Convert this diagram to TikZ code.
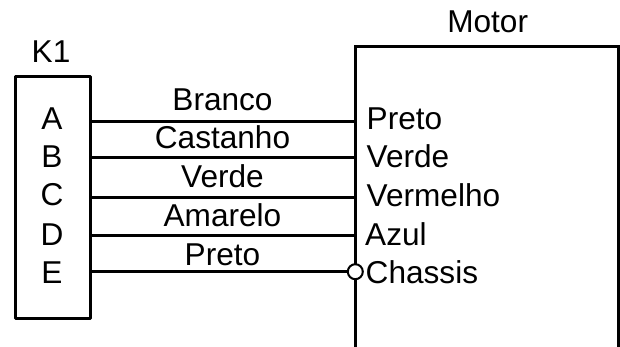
\documentclass[tikz,border=0pt]{standalone}
\usepackage{fontspec}
\setmainfont{Liberation Sans}
\begin{document}
\begin{tikzpicture}[x=1pt,y=-1pt,
  lbl/.style={inner sep=0pt,anchor=base,font=\fontsize{31.6}{32}\selectfont},
  lbll/.style={lbl,anchor=base west},
  wire/.style={line width=3pt},
  box/.style={draw,line width=3pt,line join=round,inner sep=0pt,outer sep=0pt,fill=white}]
\useasboundingbox[fill=white] (0,0) rectangle (620,347);
% K1 block
\node[box,minimum width=75.5pt,minimum height=241pt] (k1) at (52.75,197.5) {};
\node[lbl] (k1t) at (51,62.7) {K1};
\node[lbl] (pa) at (52,130) {A};
\node[lbl] (pb) at (52,167.7) {B};
\node[lbl] (pc) at (52,206) {C};
\node[lbl] (pd) at (52,245) {D};
\node[lbl] (pe) at (52,283) {E};
% Motor block, running off the bottom of the picture
\coordinate (mbl) at (355,347);
\coordinate (mtl) at (355,47);
\coordinate (mtr) at (618,47);
\coordinate (mbr) at (618,347);
\draw[wire,line join=miter] (mbl) -- (mtl) -- (mtr) -- (mbr);
\node[lbl] (mt) at (487.7,32.7) {Motor};
% Wire end points
\coordinate (k1a) at (k1.east |- 0,122);
\coordinate (k1b) at (k1.east |- 0,158);
\coordinate (k1c) at (k1.east |- 0,197.5);
\coordinate (k1d) at (k1.east |- 0,235);
\coordinate (k1e) at (k1.east |- 0,271.7);
\coordinate (ma) at (355,122);
\coordinate (mb) at (355,158);
\coordinate (mc) at (355,197.5);
\coordinate (md) at (355,235);
\node[circle,draw,line width=2pt,fill=white,minimum size=15pt,inner sep=0pt] (me) at (355.3,271.7) {};
\draw[wire] (k1a) -- (ma);
\draw[wire] (k1b) -- (mb);
\draw[wire] (k1c) -- (mc);
\draw[wire] (k1d) -- (md);
\draw[wire] (k1e) -- (me.west);
% Wire colours
\node[lbl] (w1) at (222.5,111) {Branco};
\node[lbl] (w2) at (222.5,149) {Castanho};
\node[lbl] (w3) at (222.5,187.7) {Verde};
\node[lbl] (w4) at (222.5,226.7) {Amarelo};
\node[lbl] (w5) at (222.5,265) {Preto};
% Motor terminals
\node[lbll] (t1) at (366.5,130) {Preto};
\node[lbll] (t2) at (366.5,168) {Verde};
\node[lbll] (t3) at (366.5,207) {Vermelho};
\node[lbll] (t4) at (365,245) {Azul};
\node[lbll] (t5) at (365.5,283) {Chassis};
\end{tikzpicture}
\end{document}
